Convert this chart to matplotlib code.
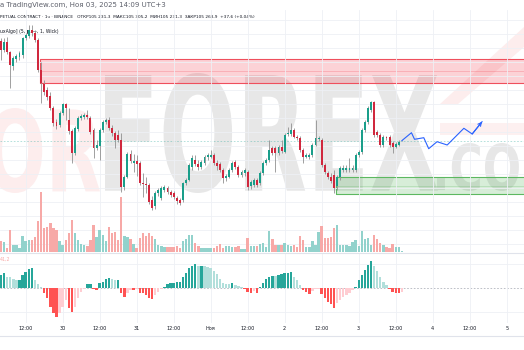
import numpy as np
import matplotlib
matplotlib.use('Agg')
import matplotlib.pyplot as plt
from matplotlib.patches import Rectangle, PathPatch, Polygon
from matplotlib.textpath import TextPath
from matplotlib.font_manager import FontProperties
from matplotlib.transforms import Affine2D
from matplotlib.ticker import MultipleLocator

# BTCUSDT perpetual, 1h candles, Oct 29 04:00 .. Nov 03 14:00 (UTC+3)
opens = [110250, 109800, 110200, 109700, 109000, 109350, 109450, 109550, 110400, 110500,
         110800, 110650, 110300, 108800, 108100, 107800, 107500, 106900, 106200, 106050,
         106650, 107100, 106300, 105750, 104650, 105850, 106400, 106450, 106550, 106400,
         105800, 104900, 105000, 105800, 106200, 106300, 105900, 105650, 105550, 105300,
         102950, 103450, 104600, 104150, 104250, 104150, 103150, 103100, 103050, 102300,
         102000, 102650, 102400, 102800, 102900, 102700, 102650, 102400, 102300, 102300,
         103150, 103300, 103950, 104300, 104100, 103950, 104150, 104450, 104450, 104550,
         104150, 104100, 103800, 103400, 103450, 103800, 104200, 103950, 103550, 103650,
         103700, 103000, 103050, 103300, 103150, 103650, 104150, 104300, 104900, 104900,
         104650, 104950, 104700, 105600, 105600, 105800, 105450, 105400, 104800, 104450,
         104450, 104550, 105050, 105350, 105300, 104050, 103650, 103450, 103550, 103000,
         103450, 103800, 103800, 103800, 103800, 103800, 104550, 104700, 105800, 106200,
         106800, 107200, 105700, 105550, 105050, 105450, 105450, 105150, 104950, 105050,
         105231.3]
closes = [109800, 110200, 109700, 109050, 109400, 109500, 109650, 110400, 110550, 110800,
          110650, 110300, 108800, 108150, 107700, 107450, 106900, 106150, 106000, 106650,
          107100, 106900, 105750, 104650, 105900, 106400, 106500, 106550, 106450, 105700,
          104900, 105050, 105800, 106200, 106300, 105900, 105650, 105300, 105300, 102950,
          103450, 104600, 104250, 104250, 104100, 103150, 103100, 103050, 102200, 101900,
          102650, 102800, 102900, 102950, 102700, 102550, 102450, 102250, 102150, 103150,
          103300, 104050, 104400, 104100, 103950, 104200, 104450, 104550, 104550, 104150,
          104000, 103800, 103400, 103500, 103800, 104150, 103950, 103550, 103700, 103800,
          102950, 103200, 103300, 103050, 103650, 104150, 104300, 104800, 104650, 104650,
          104950, 104750, 105550, 105650, 105800, 105450, 105400, 104800, 104450, 104550,
          104550, 105050, 105400, 105400, 104050, 103700, 103450, 103250, 102900, 103450,
          103900, 103900, 103900, 103900, 103900, 104550, 104700, 105800, 106200, 106900,
          107200, 105550, 105550, 105050, 105450, 105400, 105050, 104950, 105100, 105200,
          105268.9]
highs = [110400, 110400, 110450, 109750, 109500, 109600, 109750, 110450, 110650, 111050,
         111050, 110800, 110400, 109200, 108300, 107950, 107700, 107000, 106350, 106750,
         107150, 107150, 106900, 105850, 106000, 106500, 106600, 106650, 106800, 106500,
         105900, 105300, 105900, 106300, 106400, 106450, 106050, 105750, 105800, 105650,
         103550, 104700, 104800, 104600, 104550, 104250, 103650, 103450, 103150, 102500,
         102750, 102900, 103000, 103050, 103000, 102800, 102750, 102500, 102400, 103200,
         103400, 104150, 104550, 104550, 104300, 104300, 104550, 104650, 104800, 104650,
         104300, 104200, 103900, 103600, 103900, 104250, 104300, 104050, 103800, 103900,
         103800, 103300, 103400, 103400, 103750, 104250, 104400, 105300, 105000, 105000,
         105050, 105300, 105650, 105950, 106150, 105900, 105550, 105500, 104900, 104650,
         104650, 105150, 106300, 105500, 105400, 104150, 103750, 103650, 103800, 103550,
         104000, 104050, 104050, 104400, 104050, 104650, 104800, 105900, 106300, 107000,
         107250, 107250, 105800, 105650, 105550, 105500, 105550, 105250, 105200, 105300,
         105305.2]
lows = [109300, 109700, 109600, 107900, 108800, 109200, 109300, 109400, 110300, 110400,
        110500, 110200, 108700, 107150, 107550, 107300, 106800, 106000, 105850, 105950,
        106550, 106300, 105600, 104150, 104550, 105750, 106300, 106350, 106350, 105600,
        104400, 104800, 104300, 105700, 106100, 105800, 105500, 104900, 105200, 102700,
        102800, 103400, 104150, 103700, 103500, 103050, 102450, 102650, 102100, 101800,
        101850, 102500, 102300, 102700, 102600, 102450, 102350, 102100, 102050, 102200,
        103050, 103250, 103800, 104000, 103800, 103850, 104050, 104300, 104400, 104050,
        103800, 103700, 103150, 103250, 103400, 103700, 103850, 103450, 103450, 103500,
        102800, 102850, 102950, 102950, 103050, 103550, 104050, 104200, 104550, 103700,
        104550, 104650, 104650, 105500, 105500, 105400, 105300, 104700, 104150, 104400,
        104350, 104450, 105000, 105250, 103950, 103600, 103350, 103150, 102650, 102800,
        103300, 103700, 103700, 103700, 103700, 103700, 104450, 104600, 105700, 106100,
        106700, 105450, 105450, 104950, 104950, 105300, 104950, 104650, 104900, 105000,
        105231.3]
volumes = [1100, 1000, 400, 2200, 700, 700, 400, 1600, 1100, 1200,
           1200, 1500, 3100, 6000, 2400, 2500, 2900, 2400, 2200, 1100,
           700, 1200, 1900, 3200, 1900, 1200, 800, 700, 600, 1200,
           2700, 1500, 2200, 1700, 1100, 2500, 1900, 2000, 1200, 5500,
           1600, 1500, 1300, 800, 400, 1400, 1900, 1600, 1900, 1600,
           1300, 700, 600, 500, 500, 500, 500, 600, 400, 1100,
           1300, 1700, 1700, 900, 600, 400, 400, 400, 400, 400,
           600, 800, 400, 600, 600, 500, 500, 600, 300, 300,
           1400, 600, 600, 600, 800, 900, 500, 2100, 1300, 700,
           700, 700, 900, 700, 600, 700, 500, 1600, 1200, 500,
           500, 1100, 700, 2000, 2600, 1400, 1400, 1500, 2400, 2700,
           700, 700, 700, 600, 1000, 1200, 600, 2100, 1300, 1400,
           700, 1700, 1300, 900, 700, 500, 400, 800, 500, 500,
           100]
hist = [130, 150, 110, 107, 90, 80, 80, 130, 160, 190,
        200, 80, 40, 13, -50, -100, -190, -250, -290, -250,
        -190, -120, -200, -240, -190, -100, -40, -5, 37, 37,
        -10, -20, 47, 63, 93, 97, 87, 80, 85, -53,
        -87, -47, -20, -20, -13, -53, -53, -70, -103, -105,
        -70, -37, -13, 13, 37, 53, 53, 60, 63, 113,
        147, 197, 223, 237, 220, 225, 220, 215, 200, 170,
        140, 90, 50, 40, 38, 47, 35, 20, 15, -5,
        -43, -45, -30, -53, 13, 50, 90, 113, 123, 120,
        130, 137, 147, 153, 157, 113, 80, 30, -20, -43,
        -60, -30, -10, -5, -60, -103, -137, -160, -197, -153,
        -120, -93, -70, -47, -20, 13, 80, 130, 180, 230,
        275, 223, 170, 113, 63, 30, -10, -37, -53, -53,
        -41.2]

tick_hours = [8, 20, 32, 44, 56, 68, 80, 92, 104, 116, 128, 140, 152, 164]
tick_labels = ['12:00', '30', '12:00', '31', '12:00', 'Ноя', '12:00', '2',
               '12:00', '3', '12:00', '4', '12:00', '5']

resist_zone = (108165, 109335)
resist_start = 13
support_zone = (102600, 103435)
support_start = 109

proj_hours = [130, 133.1, 134.1, 137.1, 138.7, 141.4, 144.7, 150.1, 152.8, 156.0]
proj_prices = [105269, 105665, 105335, 105415, 104865, 105215, 105050, 105885, 105600, 106215]

plt.rcParams['font.family'] = ['DejaVu Sans']

teal = '#1a9e8a'
red = '#d0283e'
xlim = (-0.32, 169.6)

o = np.array(opens)
c = np.array(closes)
h = np.array(highs)
l = np.array(lows)
idx = np.arange(len(c))
up = c >= o

fig = plt.figure(figsize=(5.24, 3.5), dpi=100)
fig.patch.set_facecolor('white')

# background layer in pixel coords: watermark + header
bg = fig.add_axes([0, 0, 1, 1], zorder=0)
bg.set_xlim(0, 524)
bg.set_ylim(350, 0)
bg.axis('off')


def stamp(text, box, color):
    tp = TextPath((0, 0), text, size=100, prop=FontProperties(family='DejaVu Sans', weight='bold'))
    ext = tp.get_extents()
    sx = (box[2] - box[0]) / ext.width
    sy = (box[3] - box[1]) / ext.height
    tr = Affine2D().translate(-ext.x0, -ext.y1).scale(sx, -sy).translate(box[0], box[1])
    bg.add_patch(PathPatch(tr.transform_path(tp), fc=color, ec='none'))


stamp('OR', (-12, 108, 100, 193), '#fdeded')
stamp('FOREX', (105, 73, 438, 193), '#e7e7e7')
stamp('.COM', (437, 143, 562, 191), '#e7e7e7')
bg.add_patch(Polygon([(440, 104), (458, 104), (524, 47), (524, 27)], closed=True, fc='#fdeded', ec='none'))
bg.add_patch(Rectangle((440, 123), 90, 12, fc='#fdf0f0', ec='none'))


def ru(v):
    return f'{v:,.1f}'.replace(',', ' ').replace('.', ',')


chg = closes[-1] - opens[-1]
pct = chg / opens[-1] * 100
bg.text(0, 5, 'а TradingView.com, Ноя 03, 2025 14:09 UTC+3', fontsize=5, color='#5d606b', va='center')
bg.text(0, 17, f'PETUAL CONTRACT · 1ч · BINANCE   ОТКР{ru(opens[-1])}  МАКС{ru(highs[-1])}  '
        f'МИН{ru(lows[-1])}  ЗАКР{ru(closes[-1])}  +{ru(chg)} (+{pct:.2f}'.replace('.', ',') + '%)',
        fontsize=3.1, color='#131722', va='center')
bg.text(0, 32, 'uxAlgo] (5, ▮, —, 1, Wick)', fontsize=3.3, color='#131722', va='center')
bg.text(0, 259, '41,2', fontsize=3.4, color='#f7a9a7', va='center')
bg.axhline(336, color='#e0e3eb', lw=0.8)

# price pane
ax = fig.add_axes([0, 98 / 350, 1, 242 / 350], zorder=1)
ax.patch.set_alpha(0)
ax.set_xlim(*xlim)
ax.set_ylim(99700, 111800)
ax.set_xticks(tick_hours)
ax.yaxis.set_major_locator(MultipleLocator(700))
ax.grid(color='#eef0f5', lw=0.6)
ax.tick_params(length=0, labelbottom=False, labelleft=False)
for s in ax.spines.values():
    s.set_visible(False)

ax.add_patch(Rectangle((resist_start - 0.4, resist_zone[0]), 300, resist_zone[1] - resist_zone[0],
                       fc='#f23645', alpha=0.22, ec='none', zorder=1))
ax.add_patch(Rectangle((resist_start - 0.4, resist_zone[0]), 300, resist_zone[1] - resist_zone[0],
                       fc='none', ec='#ef4f5c', lw=0.8, zorder=1.2))
ax.hlines(sum(resist_zone) / 2, resist_start - 0.4, xlim[1], color='#f23645', lw=0.5, alpha=0.3, zorder=1.2)
ax.add_patch(Rectangle((support_start - 0.4, support_zone[0]), 300, support_zone[1] - support_zone[0],
                       fc='#4caf50', alpha=0.22, ec='none', zorder=1))
ax.add_patch(Rectangle((support_start - 0.4, support_zone[0]), 300, support_zone[1] - support_zone[0],
                       fc='none', ec='#5cb860', lw=0.8, zorder=1.2))
ax.hlines(sum(support_zone) / 2, support_start - 0.4, xlim[1], color='#4caf50', lw=0.5, alpha=0.3, zorder=1.2)

ax.axhline(closes[-1], color='#26a69a', lw=0.6, ls=(0, (2, 2)), alpha=0.4, zorder=1.5)

ax.vlines(idx, l, h, color='#909090', lw=0.6, zorder=2)
ax.bar(idx, np.maximum(np.abs(c - o), 20), bottom=np.minimum(o, c), width=0.62,
       color=np.where(up, teal, red), zorder=3)

ax.plot(proj_hours, proj_prices, color='#2962ff', lw=0.8, zorder=4)
ax.annotate('', xy=(proj_hours[-1], proj_prices[-1]), xytext=(proj_hours[-2], proj_prices[-2]),
            arrowprops=dict(arrowstyle='->', color='#2962ff', lw=0.8, shrinkA=0, shrinkB=0,
                            mutation_scale=6), zorder=4)

# volume overlay
axv = fig.add_axes([0, 98 / 350, 1, 67 / 350], zorder=2)
axv.patch.set_alpha(0)
axv.set_xlim(*xlim)
axv.set_ylim(0, 6700)
axv.axis('off')
axv.bar(idx, volumes, width=0.78, color=np.where(up, '#92d2cc', '#f7a9a7'))

# histogram pane
hv = np.array(hist, dtype=float)
prev = np.concatenate([[hv[0]], hv[:-1]])
hcol = np.where(hv >= 0, np.where(hv >= prev, '#26a69a', '#b2dfdb'),
                np.where(hv <= prev, '#ff5252', '#ffcdd2'))

axo = fig.add_axes([0, 27 / 350, 1, 70 / 350], zorder=1)
axo.patch.set_alpha(0)
axo.set_xlim(*xlim)
axo.set_ylim(-350, 350)
axo.axhline(0, color='#b2b5be', lw=0.6, ls=(0, (2, 2)), zorder=0)
axo.bar(idx, hv, width=0.78, color=hcol, zorder=2)
axo.set_yticks([-240, 240])
axo.set_xticks(tick_hours, labels=tick_labels)
axo.grid(color='#eef0f5', lw=0.6)
axo.set_axisbelow(True)
axo.tick_params(axis='x', length=0, labelsize=3.6, pad=2.2, labelcolor='#131722')
axo.tick_params(axis='y', length=0, labelleft=False)
for k, s in axo.spines.items():
    s.set_visible(k == 'top')
axo.spines['top'].set_color('#e0e3eb')
axo.spines['top'].set_linewidth(0.8)

fig.savefig('out.png', dpi=100)
